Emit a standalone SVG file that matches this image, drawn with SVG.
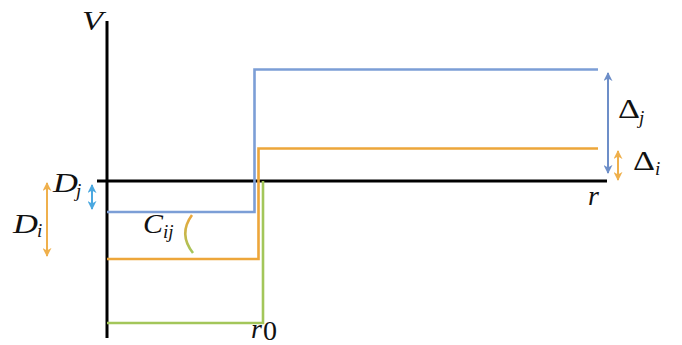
<svg xmlns="http://www.w3.org/2000/svg" width="682" height="345" viewBox="0 0 682 345">
<style>
text{font-family:"Liberation Serif","Times New Roman","DejaVu Serif",serif;font-style:italic;font-size:28px;fill:#111}
.up{font-style:normal}
.sub{font-size:19px}
.axis{stroke:#000;stroke-width:3;fill:none}
.blue{stroke:#7C9ED6;stroke-width:2.6;fill:none}
.orange{stroke:#EDA63A;stroke-width:2.6;fill:none}
.green{stroke:#A3C65A;stroke-width:2.6;fill:none}
</style>
<defs>
<marker id="mBlue" viewBox="0 0 10 10" refX="9" refY="5" markerWidth="9" markerHeight="9" markerUnits="userSpaceOnUse" orient="auto-start-reverse"><path d="M0,0 L10,5 L0,10 L3,5 z" fill="#6D8EC8"/></marker>
<marker id="mLBlue" viewBox="0 0 10 10" refX="9" refY="5" markerWidth="9" markerHeight="9" markerUnits="userSpaceOnUse" orient="auto-start-reverse"><path d="M0,0 L10,5 L0,10 L3,5 z" fill="#4BA8E0"/></marker>
<marker id="mOrange" viewBox="0 0 10 10" refX="9" refY="5" markerWidth="9" markerHeight="9" markerUnits="userSpaceOnUse" orient="auto-start-reverse"><path d="M0,0 L10,5 L0,10 L3,5 z" fill="#EFB04C"/></marker>
<linearGradient id="arcGrad" gradientUnits="userSpaceOnUse" x1="0" y1="215" x2="0" y2="253">
<stop offset="0" stop-color="#EDA63A"/>
<stop offset="1" stop-color="#A3C65A"/>
</linearGradient>
</defs>
<g id="axes">
<line class="axis" x1="107" y1="21" x2="107" y2="338"/>
<line class="axis" x1="97" y1="181" x2="607" y2="181"/>
</g>
<g id="curves">
<polyline id="curve-j" class="blue" points="107,212 254.5,212 254.5,69.5 598,69.5"/>
<polyline id="curve-i" class="orange" points="107,259 258.5,259 258.5,148.5 598,148.5"/>
<polyline id="curve-0" class="green" points="107,323 263,323 263,181"/>
<path id="arc-Cij" d="M192,215 Q178,234 193,253" fill="none" stroke="url(#arcGrad)" stroke-width="2.6"/>
</g>
<g id="connectors">
<line x1="92" y1="185" x2="92" y2="209" stroke="#4BA8E0" stroke-width="2" marker-start="url(#mLBlue)" marker-end="url(#mLBlue)"/>
<line x1="47" y1="183" x2="47" y2="256" stroke="#EFB04C" stroke-width="2" marker-start="url(#mOrange)" marker-end="url(#mOrange)"/>
<line x1="608" y1="73" x2="608" y2="173" stroke="#6D8EC8" stroke-width="2" marker-start="url(#mBlue)" marker-end="url(#mBlue)"/>
<line x1="618" y1="151" x2="618" y2="180" stroke="#EFB04C" stroke-width="2" marker-start="url(#mOrange)" marker-end="url(#mOrange)"/>
</g>
<g id="labels">
<text x="251" y="338">r</text>
<text class="up" x="263" y="340" font-size="18">0</text>
<text x="82" y="30" textLength="21" lengthAdjust="spacingAndGlyphs">V</text>
<text x="53" y="192" textLength="25" lengthAdjust="spacingAndGlyphs">D</text>
<text class="sub" x="76" y="197">j</text>
<text x="13" y="233" textLength="25" lengthAdjust="spacingAndGlyphs">D</text>
<text class="sub" x="37" y="237">i</text>
<text x="143" y="233" textLength="20" lengthAdjust="spacingAndGlyphs">C</text>
<text class="sub" x="163" y="238">ij</text>
<text x="588" y="205">r</text>
<text class="up" x="618" y="118" font-size="26" textLength="22" lengthAdjust="spacingAndGlyphs">Δ</text>
<text class="sub" x="639" y="124">j</text>
<text class="up" x="633" y="170" font-size="26" textLength="22" lengthAdjust="spacingAndGlyphs">Δ</text>
<text class="sub" x="655" y="175">i</text>
</g>
</svg>
